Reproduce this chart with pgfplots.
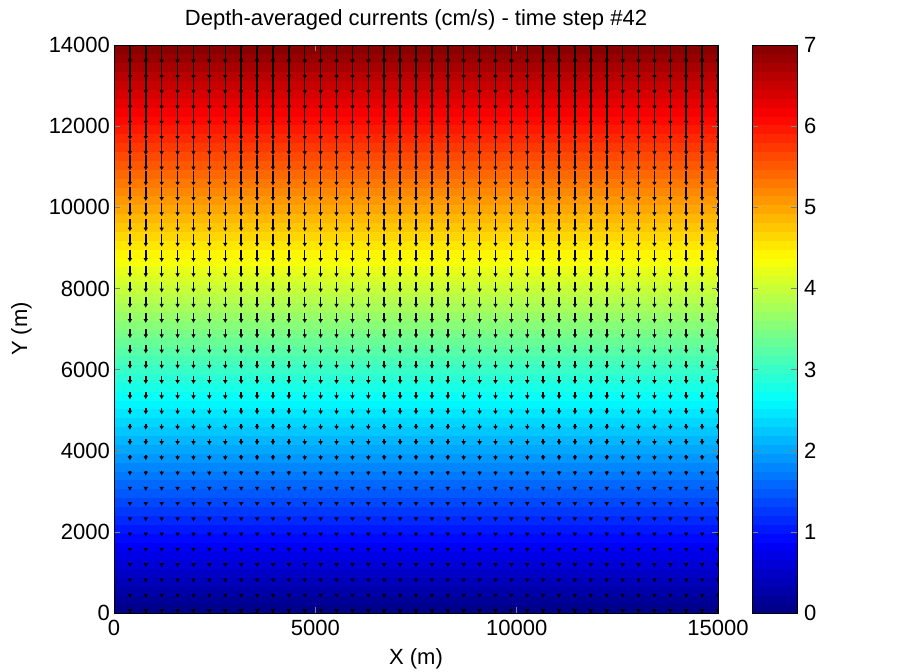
\documentclass[border=0pt]{standalone}
\usepackage{fontspec}
\setmainfont{Liberation Sans}
\usepackage{pgfplots}
\usepackage{pgfplotstable}
\pgfplotsset{compat=1.18}
\usetikzlibrary{calc,arrows.meta}

\pgfplotsset{
  every axis/.append style={font=\fontsize{11}{13}\selectfont},
  /pgf/number format/assume math mode=true,
  /pgf/number format/1000 sep={},
}

% 64 colour bands: x, y in m and speed level s (cm/s)
\pgfplotstableread{
x y s
0 0 0
15000 0 0
0 218.75 0.109375
15000 218.75 0.109375
0 437.5 0.21875
15000 437.5 0.21875
0 656.25 0.328125
15000 656.25 0.328125
0 875 0.4375
15000 875 0.4375
0 1093.75 0.546875
15000 1093.75 0.546875
0 1312.5 0.65625
15000 1312.5 0.65625
0 1531.25 0.765625
15000 1531.25 0.765625
0 1750 0.875
15000 1750 0.875
0 1968.75 0.984375
15000 1968.75 0.984375
0 2187.5 1.09375
15000 2187.5 1.09375
0 2406.25 1.203125
15000 2406.25 1.203125
0 2625 1.3125
15000 2625 1.3125
0 2843.75 1.421875
15000 2843.75 1.421875
0 3062.5 1.53125
15000 3062.5 1.53125
0 3281.25 1.640625
15000 3281.25 1.640625
0 3500 1.75
15000 3500 1.75
0 3718.75 1.859375
15000 3718.75 1.859375
0 3937.5 1.96875
15000 3937.5 1.96875
0 4156.25 2.078125
15000 4156.25 2.078125
0 4375 2.1875
15000 4375 2.1875
0 4593.75 2.296875
15000 4593.75 2.296875
0 4812.5 2.40625
15000 4812.5 2.40625
0 5031.25 2.515625
15000 5031.25 2.515625
0 5250 2.625
15000 5250 2.625
0 5468.75 2.734375
15000 5468.75 2.734375
0 5687.5 2.84375
15000 5687.5 2.84375
0 5906.25 2.953125
15000 5906.25 2.953125
0 6125 3.0625
15000 6125 3.0625
0 6343.75 3.171875
15000 6343.75 3.171875
0 6562.5 3.28125
15000 6562.5 3.28125
0 6781.25 3.390625
15000 6781.25 3.390625
0 7000 3.5
15000 7000 3.5
0 7218.75 3.609375
15000 7218.75 3.609375
0 7437.5 3.71875
15000 7437.5 3.71875
0 7656.25 3.828125
15000 7656.25 3.828125
0 7875 3.9375
15000 7875 3.9375
0 8093.75 4.046875
15000 8093.75 4.046875
0 8312.5 4.15625
15000 8312.5 4.15625
0 8531.25 4.265625
15000 8531.25 4.265625
0 8750 4.375
15000 8750 4.375
0 8968.75 4.484375
15000 8968.75 4.484375
0 9187.5 4.59375
15000 9187.5 4.59375
0 9406.25 4.703125
15000 9406.25 4.703125
0 9625 4.8125
15000 9625 4.8125
0 9843.75 4.921875
15000 9843.75 4.921875
0 10062.5 5.03125
15000 10062.5 5.03125
0 10281.25 5.140625
15000 10281.25 5.140625
0 10500 5.25
15000 10500 5.25
0 10718.75 5.359375
15000 10718.75 5.359375
0 10937.5 5.46875
15000 10937.5 5.46875
0 11156.25 5.578125
15000 11156.25 5.578125
0 11375 5.6875
15000 11375 5.6875
0 11593.75 5.796875
15000 11593.75 5.796875
0 11812.5 5.90625
15000 11812.5 5.90625
0 12031.25 6.015625
15000 12031.25 6.015625
0 12250 6.125
15000 12250 6.125
0 12468.75 6.234375
15000 12468.75 6.234375
0 12687.5 6.34375
15000 12687.5 6.34375
0 12906.25 6.453125
15000 12906.25 6.453125
0 13125 6.5625
15000 13125 6.5625
0 13343.75 6.671875
15000 13343.75 6.671875
0 13562.5 6.78125
15000 13562.5 6.78125
0 13781.25 6.890625
15000 13781.25 6.890625
0 14000 7
15000 14000 7
}\bandtab

% arrow rows: y position and v component (m on the plot)
\pgfplotstableread{
y v
0 -5
389 -13
778 -26
1167 -39
1556 -51
1944 -64
2333 -77
2722 -90
3111 -103
3500 -116
3889 -128
4278 -141
4667 -154
5056 -167
5444 -180
5833 -193
6222 -205
6611 -218
7000 -231
7389 -244
7778 -257
8167 -270
8556 -282
8944 -295
9333 -308
9722 -321
10111 -334
10500 -347
10889 -359
11278 -372
11667 -385
12056 -398
12444 -411
12833 -424
13222 -436
13611 -449
14000 -462
}\arrowtab

\begin{document}
\begin{tikzpicture}
\begin{axis}[
  name=main,
  scale only axis,
  width=302pt, height=284pt,
  xmin=0, xmax=15000, ymin=0, ymax=14000,
  enlargelimits=false,
  axis on top,
  scaled ticks=false,
  xtick={0,5000,10000,15000},
  ytick={0,2000,...,14000},
  tick align=inside,
  major tick length=3pt,
  tick pos=both,
  yticklabel style={xshift=1.5pt},
  colormap/jet,
  point meta min=0, point meta max=7,
  title={Depth-averaged currents (cm/s) - time step \#42},
  every axis title shift=0pt,
  title style={at={(axis description cs:0.5,1.0335)}, anchor=base},
  xlabel={X (m)},
  xlabel style={at={(axis description cs:0.5,-0.0915)}, anchor=base},
  ylabel={Y (m)},
  ylabel style={at={(axis description cs:-0.144,0.5)}, anchor=base},
]
\addplot[surf, shader=flat mean, mesh/cols=2, mesh/rows=65,
  point meta=\thisrow{s}] table[x=x, y=y] {\bandtab};

\pgfplotsinvokeforeach{395,789,1184,1579,1974,2368,2763,3158,3553,3947,4342,4737,5132,5526,5921,6316,6711,7105,7500,7895,8289,8684,9079,9474,9868,10263,10658,11053,11447,11842,12237,12632,13026,13421,13816,14211,14605,15000}{
  \addplot[black, line width=0.75pt, -{Latex[length=2pt,width=2.4pt]},
    quiver={u=0, v=\thisrow{v}}] table[x expr=#1, y=y] {\arrowtab};
}
\end{axis}

% colour bar
\begin{axis}[
  at={(main.north east)}, anchor=north west, xshift=17pt,
  scale only axis,
  width=22.5pt, height=284pt,
  xmin=0, xmax=15000, ymin=0, ymax=7,
  enlargelimits=false,
  axis on top,
  xtick=\empty,
  ytick={0,1,...,7},
  ytick pos=both,
  yticklabel pos=right,
  tick align=inside,
  major tick length=3pt,
  colormap/jet,
  point meta min=0, point meta max=7,
]
\addplot[surf, shader=flat mean, mesh/cols=2, mesh/rows=65,
  point meta=\thisrow{s}] table[x=x, y=s] {\bandtab};
\end{axis}

\pgfresetboundingbox
\path[use as bounding box] ($(main.south west)+(-57pt,-29pt)$) rectangle ($(main.south west)+(399.5pt,306.5pt)$);
\end{tikzpicture}
\end{document}
